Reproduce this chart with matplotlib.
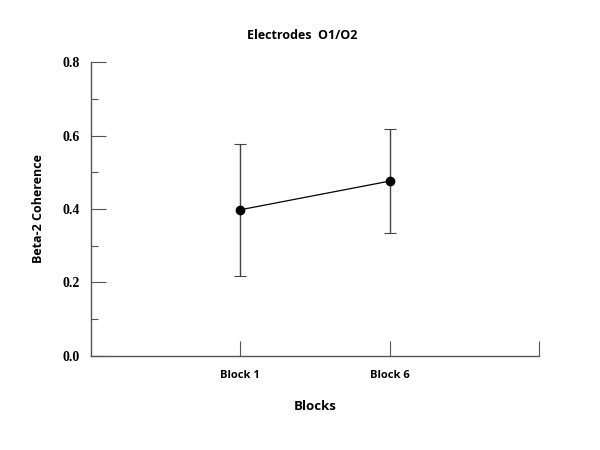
import matplotlib.pyplot as plt
from matplotlib.ticker import MultipleLocator

blocks = ["Block 1", "Block 6"]
coherence = [0.398, 0.476]
err = [0.179, 0.142]

x_pos = [1, 2]

fig = plt.figure(figsize=(6, 4.5), dpi=100)
ax = fig.add_axes([0.152, 0.209, 0.746, 0.653])

ax.errorbar(x_pos, coherence, yerr=err, fmt='o-', color='black', ms=6,
            lw=0.9, ecolor='#444444', elinewidth=1.0, capsize=4, capthick=0.8)

ax.set_xlim(0, 3)
ax.set_ylim(0, 0.8)
ax.set_xticks([1, 2, 3])
ax.set_xticklabels(blocks + [""], fontfamily='Open Sans', fontweight='bold', fontsize=8)
ax.yaxis.set_major_locator(MultipleLocator(0.2))
ax.yaxis.set_minor_locator(MultipleLocator(0.1))
ax.set_yticklabels([f"{v:.1f}" for v in ax.get_yticks()],
                   fontfamily='Liberation Serif', fontweight='bold', fontsize=10)

for s in ['top', 'right']:
    ax.spines[s].set_visible(False)
for s in ['left', 'bottom']:
    ax.spines[s].set_color('#555555')
    ax.spines[s].set_linewidth(1.0)

ax.tick_params(axis='both', which='major', direction='in', length=11, color='#555555', width=0.8)
ax.tick_params(axis='y', which='minor', direction='in', length=5, color='#555555', width=0.8)
ax.tick_params(axis='x', pad=10)
ax.tick_params(axis='y', pad=8)

fig.text(0.503, 0.922, "Electrodes  O1/O2", fontfamily='Open Sans', fontweight='bold',
         fontsize=9, ha='center', va='center')
ax.set_xlabel("Blocks", fontfamily='Open Sans', fontweight='bold', fontsize=9.5, labelpad=14)
ax.set_ylabel("Beta-2 Coherence", fontfamily='Open Sans', fontweight='bold', fontsize=9, labelpad=13)

fig.savefig("out.png", dpi=100)
